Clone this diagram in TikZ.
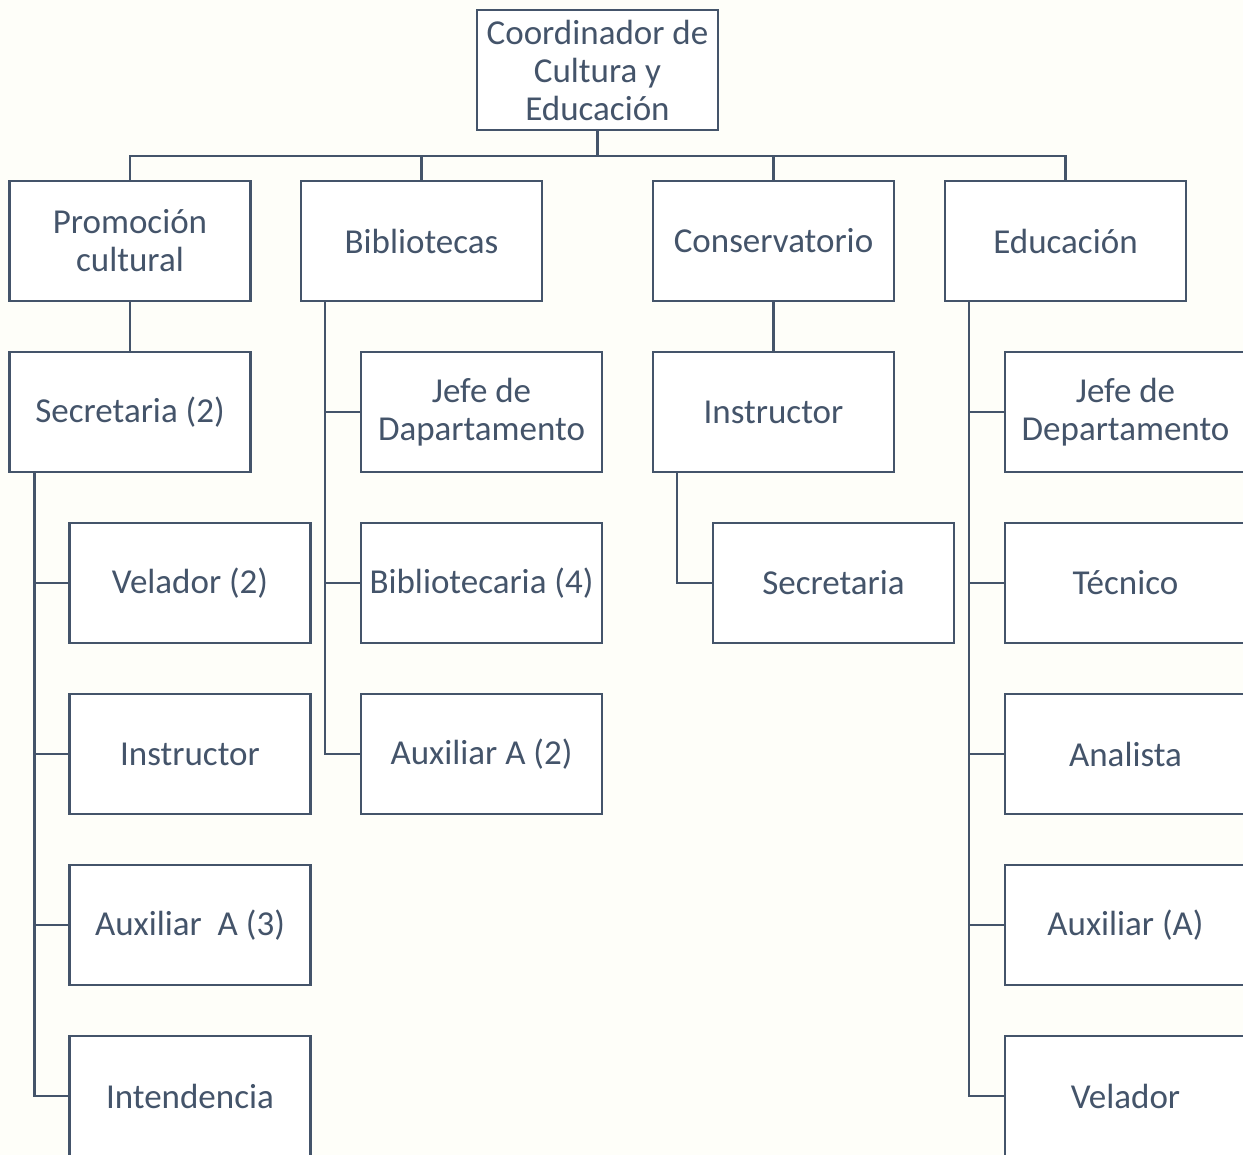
\documentclass[tikz,border=0pt]{standalone}
\usepackage{fontspec}
\setmainfont{Carlito}
\definecolor{ln}{HTML}{44546A}
\definecolor{bg}{HTML}{FEFEF9}
\begin{document}
\begin{tikzpicture}[x=1pt,y=-1pt,
  box/.style={draw=ln, fill=white, line width=2.8pt, minimum width=241pt, minimum height=120pt, inner sep=0pt, align=center, text=ln, font=\fontsize{35}{38}\selectfont},
  conn/.style={draw=ln, line width=2.8pt}]
\fill[bg] (0,0) rectangle (1243,1155);
\useasboundingbox (0,0) rectangle (1243,1155);
\clip (0,0) rectangle (1243,1155);
% level 1
\node[box] (top) at (597.5,70) {Coordinador de\\Cultura y\\Educación};
% level 2
\node[box] (prom) at (130,241) {Promoción\\cultural};
\node[box] (bib) at (421.5,241) {Bibliotecas};
\node[box] (cons) at (773.5,241) {Conservatorio};
\node[box] (edu) at (1065.5,241) {Educación};
% Promocion
\node[box] (sec) at (130,412) {Secretaria (2)};
\node[box] (vel) at (190,583) {Velador (2)};
\node[box] (ins1) at (190,754) {Instructor};
\node[box] (aux1) at (190,925) {Auxiliar\ \ A (3)};
\node[box] (int) at (190,1096) {Intendencia};
% Bibliotecas
\node[box] (jefe1) at (481.5,412) {Jefe de\\Dapartamento};
\node[box] (bibl) at (481.5,583) {Bibliotecaria (4)};
\node[box] (aux2) at (481.5,754) {Auxiliar A (2)};
% Conservatorio
\node[box] (ins2) at (773.5,412) {Instructor};
\node[box] (sec2) at (833.5,583) {Secretaria};
% Educacion
\node[box] (jefe2) at (1125.5,412) {Jefe de\\Departamento};
\node[box] (tec) at (1125.5,583) {Técnico};
\node[box] (ana) at (1125.5,754) {Analista};
\node[box] (aux3) at (1125.5,925) {Auxiliar (A)};
\node[box] (vel2) at (1125.5,1096) {Velador};
% connectors
\draw[conn] (top.south) -- ++(0,24.6) coordinate (bus);
\draw[conn] (prom.north) |- (bus);
\draw[conn] (bib.north) |- (bus);
\draw[conn] (cons.north) |- (bus);
\draw[conn] (edu.north) |- (bus);
\draw[conn] (prom) -- (sec);
\draw[conn] ([xshift=26pt]sec.south west) coordinate (s1) |- (vel.west);
\draw[conn] (s1) |- (ins1.west);
\draw[conn] (s1) |- (aux1.west);
\draw[conn] (s1) |- (int.west);
\draw[conn] ([xshift=25.4pt]bib.south west) coordinate (b1) |- (jefe1.west);
\draw[conn] (b1) |- (bibl.west);
\draw[conn] (b1) |- (aux2.west);
\draw[conn] (cons) -- (ins2);
\draw[conn] ([xshift=25.4pt]ins2.south west) |- (sec2.west);
\draw[conn] ([xshift=25.4pt]edu.south west) coordinate (e1) |- (jefe2.west);
\draw[conn] (e1) |- (tec.west);
\draw[conn] (e1) |- (ana.west);
\draw[conn] (e1) |- (aux3.west);
\draw[conn] (e1) |- (vel2.west);
\end{tikzpicture}
\end{document}
